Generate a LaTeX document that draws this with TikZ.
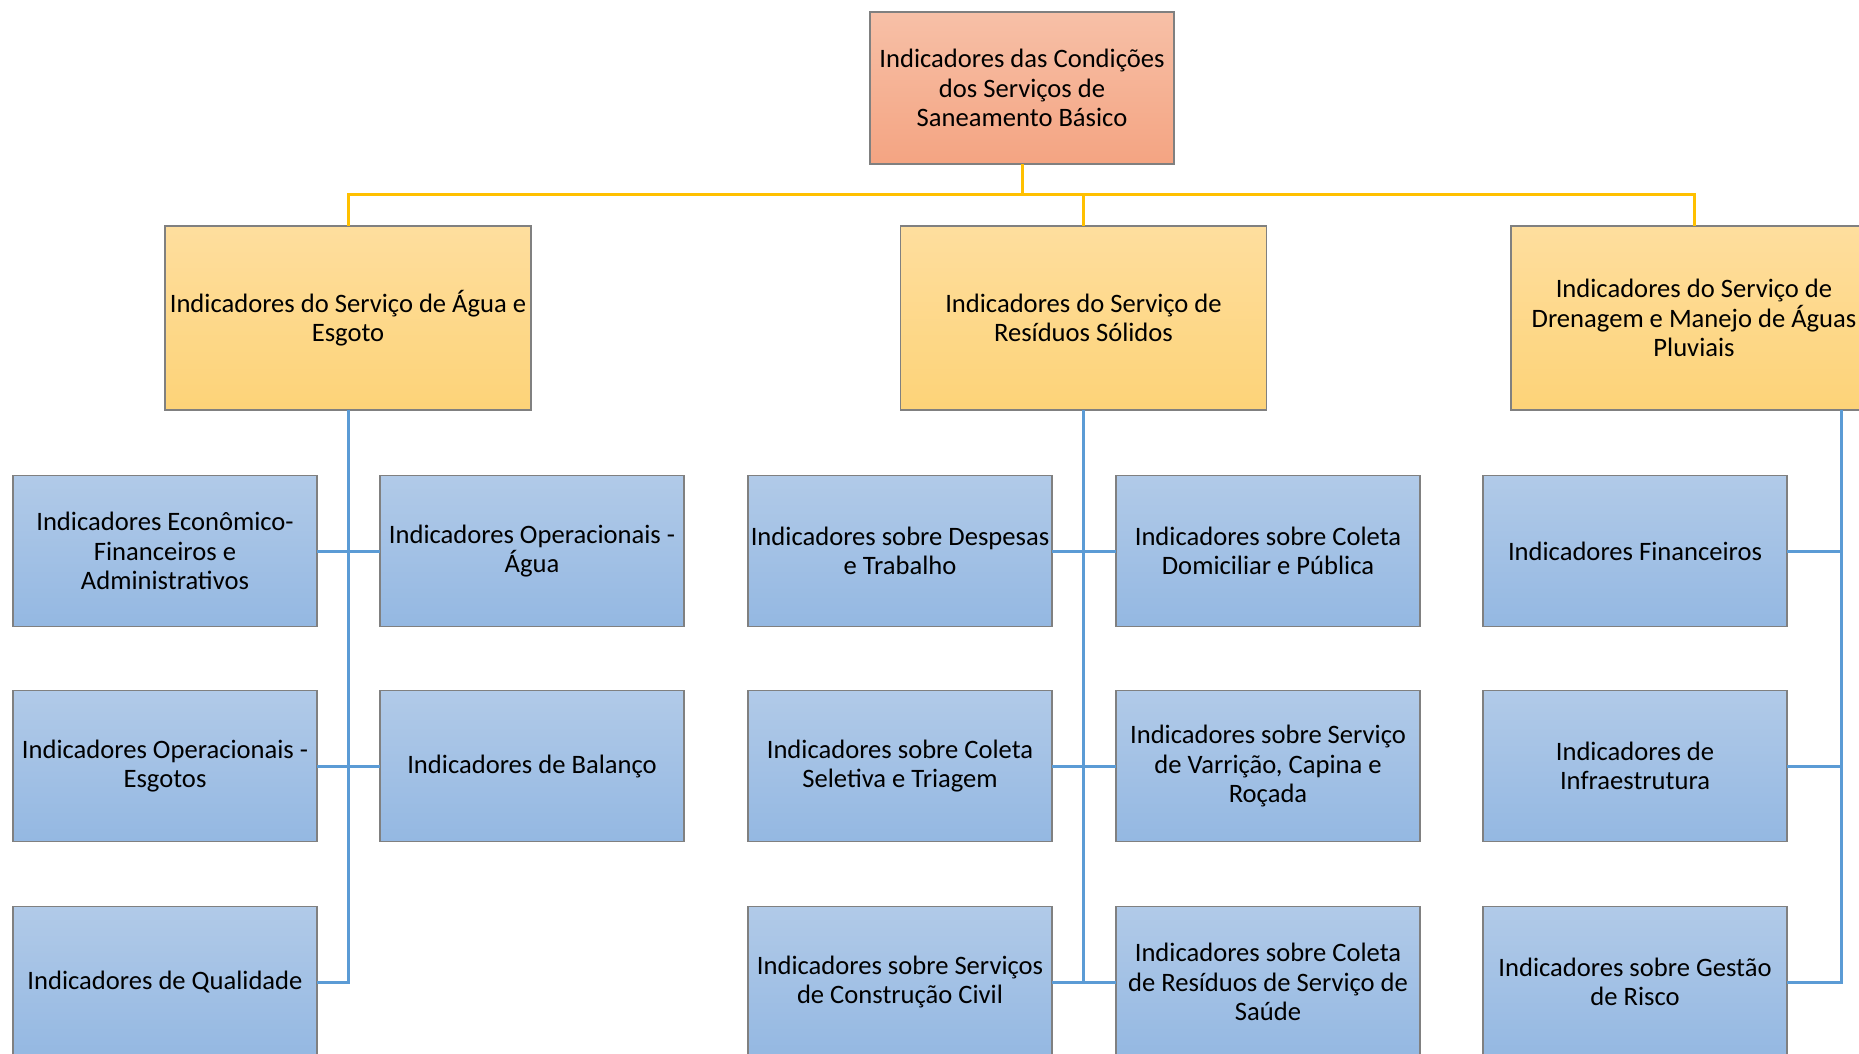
\documentclass[tikz,border=0pt]{standalone}
\usepackage{fontspec}
\setmainfont{Carlito}
\usetikzlibrary{positioning}
\definecolor{roottop}{RGB}{247,192,167}
\definecolor{rootbot}{RGB}{244,164,130}
\definecolor{servtop}{RGB}{254,222,158}
\definecolor{servbot}{RGB}{253,211,120}
\definecolor{indtop}{RGB}{177,202,232}
\definecolor{indbot}{RGB}{148,184,226}
\definecolor{boxline}{RGB}{128,128,128}
\definecolor{ylw}{RGB}{255,192,0}
\definecolor{blu}{RGB}{91,155,213}
\tikzset{%
   box/.style={draw=boxline, line width=0.8pt, inner xsep=0pt, inner ysep=2pt, outer sep=0pt, align=center,
      font=\fontsize{13.3}{14.8}\selectfont},
   rootbox/.style={box, top color=roottop, bottom color=rootbot, minimum width=152pt, minimum height=76pt},
   servbox/.style={box, top color=servtop, bottom color=servbot, minimum width=183pt, minimum height=92pt},
   indbox/.style={box, top color=indtop, bottom color=indbot, minimum width=152pt, minimum height=75.5pt},
   yline/.style={draw=ylw, line width=1.5pt},
   bline/.style={draw=blu, line width=1.5pt},
}

\begin{document}
\begin{tikzpicture}[x=0.5pt, y=-0.5pt]
   \useasboundingbox (0,0) rectangle (1859,1054);
   % top
   \node[rootbox] (root) at (1022,88) {Indicadores das Condições\\dos Serviços de\\Saneamento Básico};
   % services
   \node[servbox] (agua) at (348,318) {Indicadores do Serviço de Água e\\Esgoto};
   \node[servbox] (resid) at (1083.5,318) {Indicadores do Serviço de\\Resíduos Sólidos};
   \node[servbox] (dren) at (1694,318) {Indicadores do Serviço de\\Drenagem e Manejo de Águas\\Pluviais};
   % agua e esgoto
   \node[indbox] (econ) at (165,551) {Indicadores Econômico-\\Financeiros e\\Administrativos};
   \node[indbox] (opagua) at (532,551) {Indicadores Operacionais -\\Água};
   \node[indbox] (opesg) at (165,766) {Indicadores Operacionais -\\Esgotos};
   \node[indbox] (bal) at (532,766) {Indicadores de Balanço};
   \node[indbox] (qual) at (165,982) {Indicadores de Qualidade};
   % residuos
   \node[indbox] (desp) at (900,551) {Indicadores sobre Despesas\\e Trabalho};
   \node[indbox] (coldom) at (1268,551) {Indicadores sobre Coleta\\Domiciliar e Pública};
   \node[indbox] (colsel) at (900,766) {Indicadores sobre Coleta\\Seletiva e Triagem};
   \node[indbox] (varr) at (1268,766) {Indicadores sobre Serviço\\de Varrição, Capina e\\Roçada};
   \node[indbox] (constr) at (900,982) {Indicadores sobre Serviços\\de Construção Civil};
   \node[indbox] (saude) at (1268,982) {Indicadores sobre Coleta\\de Resíduos de Serviço de\\Saúde};
   % drenagem
   \node[indbox] (fin) at (1635,551) {Indicadores Financeiros};
   \node[indbox] (infra) at (1635,766) {Indicadores de\\Infraestrutura};
   \node[indbox] (risco) at (1635,982) {Indicadores sobre Gestão\\de Risco};

   % yellow connectors
   \coordinate (bus) at (1022,195);
   \draw[yline] (root.south) -- (root.south |- bus);
   \draw[yline] (agua.north) |- (bus) -| (dren.north);
   \draw[yline] (resid.north) -- (resid.north |- bus);

   % blue connectors
   \draw[bline] (agua.south) |- (qual.east);
   \draw[bline] (econ.east) -- (opagua.west);
   \draw[bline] (opesg.east) -- (bal.west);
   \draw[bline] (resid.south) -- (resid.south |- constr.east);
   \draw[bline] (desp.east) -- (coldom.west);
   \draw[bline] (colsel.east) -- (varr.west);
   \draw[bline] (constr.east) -- (saude.west);
   \coordinate (rtrunk) at (1841,410);
   \draw[bline] (rtrunk) |- (risco.east);
   \draw[bline] (fin.east) -- (fin.east -| rtrunk);
   \draw[bline] (infra.east) -- (infra.east -| rtrunk);
\end{tikzpicture}
\end{document}
